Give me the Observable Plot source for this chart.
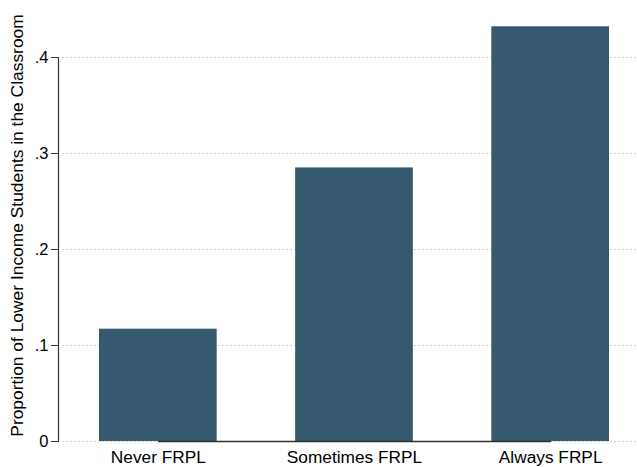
<!DOCTYPE html>
<html>
<head>
<meta charset="utf-8">
<script src="https://cdn.jsdelivr.net/npm/d3@7"></script>
<script src="https://cdn.jsdelivr.net/npm/@observablehq/plot@0.6"></script>
<style>
  html, body { margin: 0; padding: 0; background: #fff; }
</style>
</head>
<body>
<div id="chart"></div>
<script>
const categories = ["Never FRPL", "Sometimes FRPL", "Always FRPL"];
const values = [0.117, 0.285, 0.432];
const yTicks = [0, 0.1, 0.2, 0.3, 0.4];
const yTickLabels = ["0", ".1", ".2", ".3", ".4"];
const yTitle = "Proportion of Lower Income Students in the Classroom";

const data = categories.map((c, i) => ({cat: c, val: values[i]}));

const chart = Plot.plot({
  width: 637,
  height: 467,
  marginLeft: 58,
  marginRight: 0,
  marginTop: 57,
  marginBottom: 26,
  style: {fontFamily: "'Liberation Sans', Arial, sans-serif", fontSize: "17px", color: "#000", background: "#fff"},
  x: {type: "band", domain: categories, range: [99, 609], paddingInner: 0.4, paddingOuter: 0, round: false},
  y: {domain: [0, 0.4]},
  marks: [
    Plot.ruleY(yTicks, {stroke: "#c4c4c4", strokeDasharray: "1.5,2.5", insetLeft: 4}),
    Plot.barY(data, {x: "cat", y: "val", fill: "#365970"}),
    Plot.lineY(categories, {x: d => d, y: () => 0, stroke: "#333", strokeWidth: 1.3}),
    Plot.frame({anchor: "left", stroke: "#333", strokeWidth: 1.2}),
    Plot.axisY({ticks: yTicks, tickFormat: d => yTickLabels[yTicks.indexOf(d)], tickSize: 7, tickPadding: 3, label: null, fontSize: 16.5, stroke: "#333"}),
    Plot.axisX({tickSize: 0, tickPadding: 9.5, label: null, fontSize: 17.3}),
    Plot.text([yTitle], {text: d => d, frameAnchor: "left", textAnchor: "middle", rotate: -90, dx: -41, dy: -24, fontSize: 17.4, fill: "#000"})
  ]
});
document.getElementById("chart").appendChild(chart);
</script>
</body>
</html>
